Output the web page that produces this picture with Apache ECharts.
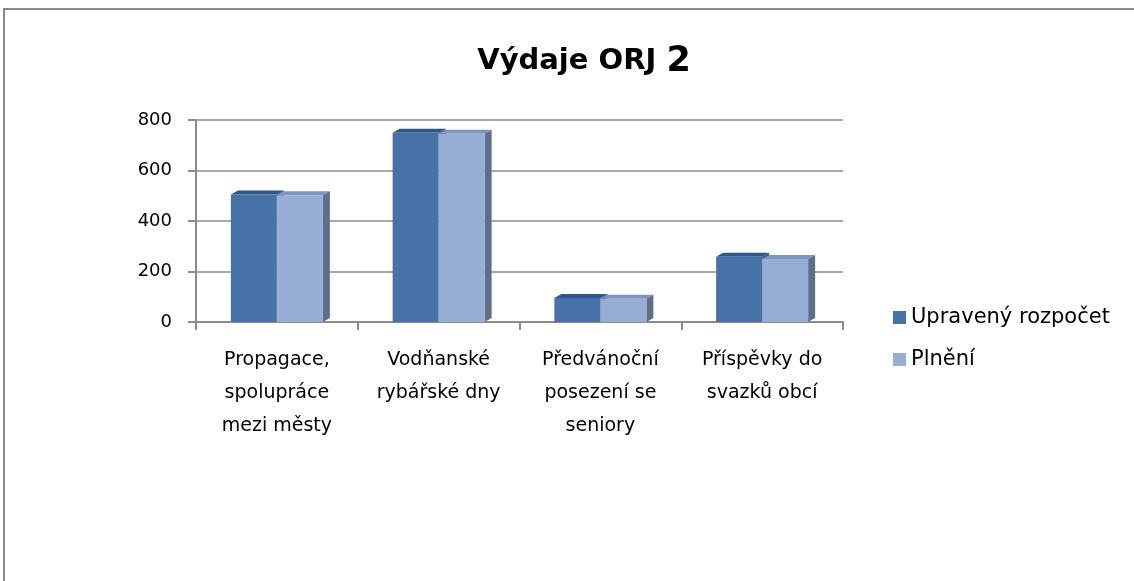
<!DOCTYPE html>
<html>
<head>
<meta charset="utf-8">
<script src="https://cdn.jsdelivr.net/npm/echarts@6/dist/echarts.min.js"></script>
<style>
	html, body { margin: 0; padding: 0; background: #fff; }
	#chart { width: 1134px; height: 581px; }
</style>
</head>
<body>
<div id="chart"></div>
<script>
var categories = ['Propagace,\nspolupráce\nmezi městy', 'Vodňanské\nrybářské dny', 'Předvánoční\nposezení se\nseniory', 'Příspěvky do\nsvazků obcí'];
var budget = [505, 750, 95, 258];
var actual = [502, 746, 92, 250];
var yTicks = [0, 200, 400, 600, 800];

var font = 'DejaVu Sans';
var barW = 46;
var depthX = 7, depthY = 4;

// 3D side and top faces, placed with the same axes as the bars
function renderFaces(params, api) {
	var idx = api.value(0);
	var p1 = api.coord([idx, api.value(1)]);
	var p2 = api.coord([idx, api.value(2)]);
	var p0 = api.coord([idx, 0]);
	var cx = p1[0], y1 = p1[1], y2 = p2[1], y0 = p0[1];
	return {
		type: 'group',
		children: [{
			type: 'polygon',
			shape: { points: [[cx, y1], [cx + depthX, y1 - depthY], [cx + depthX, y0 - depthY], [cx, y0]] },
			style: { fill: '#33598a' }
		}, {
			type: 'polygon',
			shape: { points: [[cx - barW, y1], [cx, y1], [cx + depthX, y1 - depthY], [cx - barW + depthX, y1 - depthY]] },
			style: { fill: '#2f5888' }
		}, {
			type: 'polygon',
			shape: { points: [[cx, y2], [cx + barW, y2], [cx + barW + depthX, y2 - depthY], [cx + depthX, y2 - depthY]] },
			style: { fill: '#7f95bb' }
		}, {
			type: 'polygon',
			shape: { points: [[cx + barW, y2], [cx + barW + depthX, y2 - depthY], [cx + barW + depthX, y0 - depthY], [cx + barW, y0]] },
			style: { fill: '#5e6f8b' }
		}]
	};
}

var chart = echarts.init(document.getElementById('chart'));
chart.setOption({
	animation: false,
	textStyle: { fontFamily: font },
	graphic: [{
		type: 'rect',
		shape: { x: 4, y: 9, width: 1200, height: 700 },
		style: { fill: 'none', stroke: '#8a8a8a', lineWidth: 2 }
	}],
	title: {
		text: 'Výdaje ORJ {n|2}',
		left: 579,
		top: 39,
		textAlign: 'center',
		textStyle: {
			fontFamily: font, fontSize: 29, fontWeight: 'bold', color: '#000',
			rich: {
				n: { fontFamily: font, fontSize: 35, fontWeight: 'bold', color: '#000' }
			}
		}
	},
	legend: {
		orient: 'vertical',
		left: 888,
		top: 302,
		icon: 'rect',
		itemWidth: 13,
		itemHeight: 13,
		itemGap: 21,
		data: ['Upravený rozpočet', 'Plnění'],
		textStyle: { fontFamily: font, fontSize: 21, color: '#000', padding: [0, 0, 0, 0] }
	},
	grid: {
		left: 196,
		right: 291,
		top: 120,
		bottom: 259
	},
	xAxis: {
		type: 'category',
		data: categories,
		axisLine: { lineStyle: { color: '#8c8c8c', width: 2 } },
		axisTick: { show: true, length: 8, lineStyle: { color: '#8c8c8c', width: 2 } },
		axisLabel: {
			interval: 0,
			margin: 22,
			lineHeight: 33,
			fontFamily: font,
			fontSize: 19,
			color: '#000'
		}
	},
	yAxis: {
		type: 'value',
		min: 0,
		max: 800,
		interval: 200,
		axisLine: { show: true, lineStyle: { color: '#8c8c8c', width: 2 } },
		axisTick: { show: true, length: 8, lineStyle: { color: '#8c8c8c', width: 2 } },
		splitLine: { lineStyle: { color: '#8c8c8c', width: 1.6 } },
		axisLabel: {
			margin: 24,
			fontFamily: font,
			fontSize: 18,
			color: '#000',
			formatter: function(v) {
				return yTicks.indexOf(v) >= 0 ? String(v) : '';
			}
		}
	},
	series: [{
		name: 'Upravený rozpočet',
		type: 'bar',
		data: budget,
		barWidth: barW,
		barGap: '0%',
		z: 3,
		itemStyle: { color: '#4672a7' }
	}, {
		name: 'Plnění',
		type: 'bar',
		data: actual,
		barWidth: barW,
		barGap: '0%',
		z: 3,
		itemStyle: { color: '#98add4' }
	}, {
		name: 'faces',
		type: 'custom',
		silent: true,
		z: 2,
		renderItem: renderFaces,
		data: categories.map(function(c, i) {
			return [i, budget[i], actual[i]];
		})
	}]
});
</script>
</body>
</html>
